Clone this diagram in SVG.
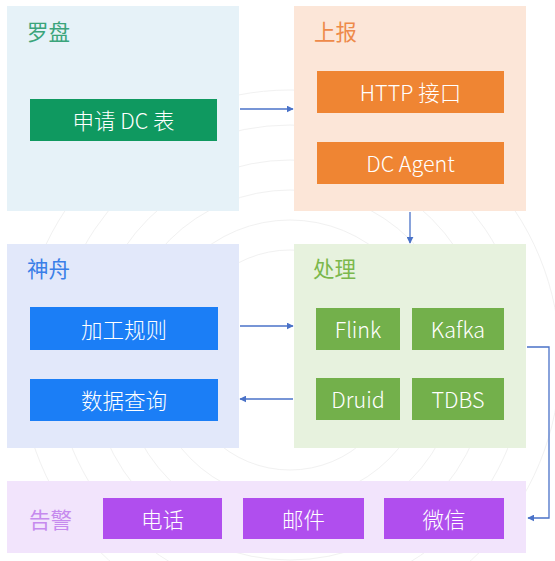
<svg xmlns="http://www.w3.org/2000/svg" width="555" height="561" viewBox="0 0 555 561">
<defs>
<marker id="ah" viewBox="0 0 10 10" refX="9" refY="5" markerWidth="7" markerHeight="7" markerUnits="userSpaceOnUse" orient="auto">
<path d="M0,0 L10,5 L0,10 z" fill="#4A72C8"/>
</marker>
</defs>
<style>
text{font-family:"Noto Sans CJK SC","Noto Sans",sans-serif;font-weight:300;}
.t{font-size:21.5px;font-weight:400;}
.b{font-size:21.5px;fill:#ffffff;text-anchor:middle;dominant-baseline:central;}
.c{fill:none;stroke:#4A72C8;stroke-width:1.3;marker-end:url(#ah);}
.bgc{fill:none;stroke:#F1F1F1;stroke-width:1;}
</style>
<rect width="555" height="561" fill="#ffffff"/>
<g id="bg">
<circle class="bgc" cx="290" cy="360" r="110"/>
<circle class="bgc" cx="290" cy="360" r="140"/>
<circle class="bgc" cx="290" cy="360" r="170"/>
<circle class="bgc" cx="290" cy="360" r="200"/>
<circle class="bgc" cx="290" cy="360" r="235"/>
<circle class="bgc" cx="290" cy="360" r="270"/>
</g>
<g id="luopan">
<rect x="7" y="6" width="232" height="205" fill="#E6F2F8"/>
<text class="t" x="27" y="40" fill="#3BA57B">罗盘</text>
</g>
<g id="shenqing">
<rect x="30" y="99" width="187" height="42" fill="#0F9960"/>
<text class="b" x="123.5" y="119.5">申请 DC 表</text>
</g>
<g id="shangbao">
<rect x="294" y="6" width="232" height="205" fill="#FCE6D8"/>
<text class="t" x="314" y="40" fill="#EE8A4A">上报</text>
</g>
<g id="http">
<rect x="317" y="71" width="187" height="42" fill="#EF8533"/>
<text class="b" x="410.5" y="91.5">HTTP 接口</text>
</g>
<g id="dcagent">
<rect x="317" y="142" width="187" height="42" fill="#EF8533"/>
<text class="b" x="410.5" y="162.5">DC Agent</text>
</g>
<g id="shenzhou">
<rect x="7" y="244" width="232" height="204" fill="#E2E8FA"/>
<text class="t" x="27" y="277" fill="#3B7FE8">神舟</text>
</g>
<g id="jiagong">
<rect x="30" y="307" width="188" height="43" fill="#1B7EF6"/>
<text class="b" x="124" y="328">加工规则</text>
</g>
<g id="chaxun">
<rect x="30" y="379" width="188" height="42" fill="#1B7EF6"/>
<text class="b" x="124" y="399.5">数据查询</text>
</g>
<g id="chuli">
<rect x="294" y="244" width="232" height="204" fill="#E7F2DE"/>
<text class="t" x="313" y="277" fill="#7BB84C">处理</text>
</g>
<g id="flink">
<rect x="316" y="308" width="84" height="42" fill="#73B04B"/>
<text class="b" x="358" y="328.5">Flink</text>
</g>
<g id="kafka">
<rect x="412" y="308" width="92" height="42" fill="#73B04B"/>
<text class="b" x="458" y="328.5">Kafka</text>
</g>
<g id="druid">
<rect x="316" y="378" width="84" height="42" fill="#73B04B"/>
<text class="b" x="358" y="398.5">Druid</text>
</g>
<g id="tdbs">
<rect x="412" y="378" width="92" height="42" fill="#73B04B"/>
<text class="b" x="458" y="398.5">TDBS</text>
</g>
<g id="gaojing">
<rect x="7" y="481" width="519" height="72" fill="#F2E4FC"/>
<text class="t" x="29" y="528" fill="#C68AEE">告警</text>
</g>
<g id="dianhua">
<rect x="103" y="498" width="119" height="41" fill="#B04EEE"/>
<text class="b" x="162.5" y="518">电话</text>
</g>
<g id="youjian">
<rect x="243" y="498" width="121" height="41" fill="#B04EEE"/>
<text class="b" x="303.5" y="518">邮件</text>
</g>
<g id="weixin">
<rect x="384" y="498" width="120" height="41" fill="#B04EEE"/>
<text class="b" x="444" y="518">微信</text>
</g>
<g id="connectors">
<path class="c" d="M240,109 H293"/>
<path class="c" d="M410,212 V243"/>
<path class="c" d="M240,326 H293"/>
<path class="c" d="M293,399 H240"/>
<path class="c" d="M527,347 H549 V518 H528"/>
</g>
</svg>
